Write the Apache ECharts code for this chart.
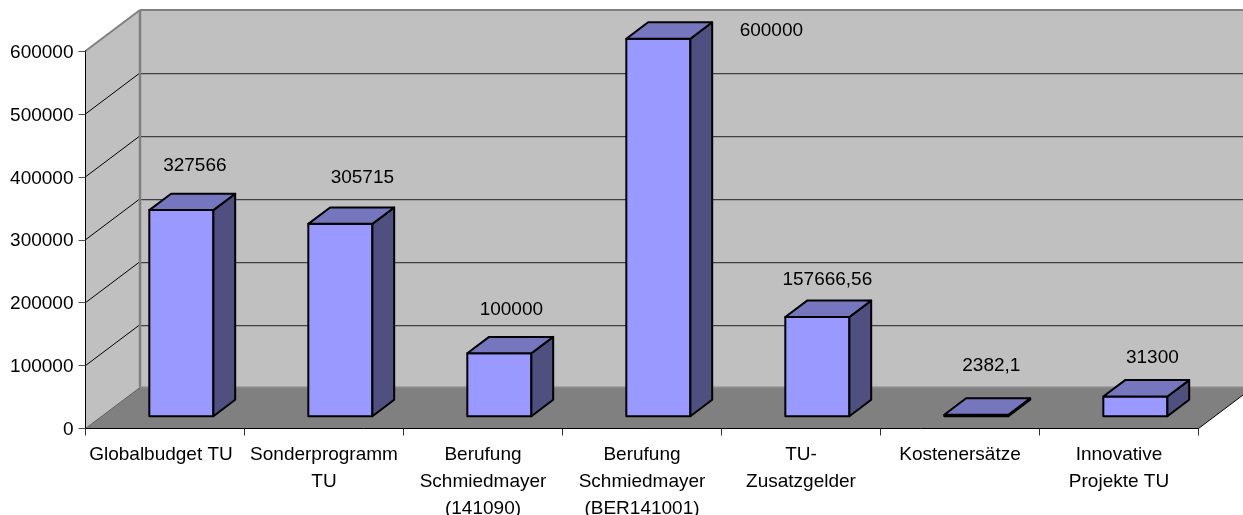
<!DOCTYPE html>
<html>
<head>
<meta charset="utf-8">
<style>html,body{margin:0;padding:0;background:#fff}#c{width:1243px;height:515px}</style>
<script src="https://cdn.jsdelivr.net/npm/echarts@6/dist/echarts.min.js"></script>
</head>
<body>
<div id="c"></div>
<script>
const categories = [
  'Globalbudget TU',
  'Sonderprogramm\nTU',
  'Berufung\nSchmiedmayer\n(141090)',
  'Berufung\nSchmiedmayer\n(BER141001)',
  'TU-\nZusatzgelder',
  'Kostenersätze',
  'Innovative\nProjekte TU'
];
const values = [327566, 305715, 100000, 600000, 157666.56, 2382.1, 31300];
const yTicks = [0, 100000, 200000, 300000, 400000, 500000, 600000];

// placement of the hand-moved value labels, relative to each bar's front top centre
const labelNudges = [[13.5,-44.5],[22,-46.5],[12,-44],[113,-7.5],[10,-37.5],[15,-48.5],[17,-39]];

const FONT_FAMILY = '"Liberation Sans", Arial, sans-serif';
const FONT_SIZE = 19;
const FONT = FONT_SIZE + 'px ' + FONT_FAMILY;
const DX = 54.5, DY = -41;          // oblique depth vector of the floor
const F0 = 0.3, F1 = 0.7;           // depth span of a bar
const BAR = 0.403;                  // bar width as a share of a category band
const C = {wall:'#C0C0C0', floor:'#808080', edge:'#808080', front:'#9999FF', top:'#7676BF', side:'#4F4F80'};

const poly = (points, fill, stroke, lw) => ({
  type:'polygon', shape:{points},
  style:{fill, stroke:stroke||null, lineWidth:lw||0, lineJoin:'round'}
});
const seg = (a, b, stroke, lw) => ({
  type:'line', shape:{x1:a[0],y1:a[1],x2:b[0],y2:b[1]},
  style:{stroke, lineWidth:lw, fill:null}
});

function renderWalls(params, api) {
  const band = api.size([1,0])[0];
  const left = api.coord([0,0])[0] - band/2;
  const right = left + band*categories.length;
  const y0 = api.coord([0,0])[1];
  const yMax = api.coord([0,yTicks[yTicks.length-1]])[1];
  const ch = [];
  ch.push(poly([[left+DX,yMax+DY],[right+DX,yMax+DY],[right+DX,y0+DY],[left+DX,y0+DY]], C.wall));
  ch.push(poly([[left,yMax],[left+DX,yMax+DY],[left+DX,y0+DY],[left,y0]], C.wall));
  ch.push(poly([[left,y0],[left+DX,y0+DY],[right+DX,y0+DY],[right,y0]], C.floor));
  yTicks.slice(1,-1).forEach(t => {
    const y = api.coord([0,t])[1];
    ch.push(seg([left,y],[left+DX,y+DY],'#000',1));
    const yb = Math.round(y+DY)+0.5;
    ch.push(seg([left+DX,yb],[right+DX,yb],'#404040',1.25));
  });
  ch.push(seg([left,yMax],[left+DX,yMax+DY],C.edge,2));
  ch.push(seg([left+DX,yMax+DY],[right+DX,yMax+DY],C.edge,2));
  ch.push(seg([left+DX,yMax+DY],[left+DX,y0+DY],C.edge,2.5));
  ch.push(seg([left+DX,y0+DY],[right+DX,y0+DY],'#8a8a8a',2));
  ch.push(seg([left,y0],[left+DX,y0+DY],'#606060',1));
  ch.push(seg([right,y0],[right+DX,y0+DY],'#000',1));
  return {type:'group', children:ch};
}

function renderBar(params, api) {
  const i = api.value(0), v = api.value(1);
  const band = api.size([1,0])[0];
  const c = api.coord([i,v]), b = api.coord([i,0]);
  const w = band*BAR;
  const fx = F0*DX, fy = F0*DY, dx = (F1-F0)*DX, dy = (F1-F0)*DY;
  const xl = c[0]-w/2+fx, xr = c[0]+w/2+fx, yt = c[1]+fy, yb = b[1]+fy;
  const n = labelNudges[i];
  return {type:'group', children:[
    poly([[xl,yt],[xr,yt],[xr,yb],[xl,yb]], C.front, '#000', 2),
    poly([[xr,yt],[xr+dx,yt+dy],[xr+dx,yb+dy],[xr,yb]], C.side, '#000', 2),
    poly([[xl,yt],[xl+dx,yt+dy],[xr+dx,yt+dy],[xr,yt]], C.top, '#000', 2),
    {type:'text', z2:10, style:{
      text:String(v).replace('.',','),
      x:c[0]+fx+n[0], y:yt+n[1],
      align:'center', verticalAlign:'middle',
      font:FONT, fill:'#000'
    }}
  ]};
}

const chart = echarts.init(document.getElementById('c'), null, {renderer:'canvas'});
chart.setOption({
  animation:false,
  backgroundColor:'#fff',
  grid:{left:85.5, right:44.5, top:51, bottom:86.5, containLabel:false, outerBoundsMode:'none'},
  xAxis:{
    type:'category', data:categories, z:5,
    axisLine:{show:true, onZero:true, lineStyle:{color:'#000',width:1}},
    axisTick:{show:true, alignWithLabel:false, length:7, lineStyle:{color:'#303030',width:1}},
    axisLabel:{interval:0, color:'#000', fontFamily:FONT_FAMILY, fontSize:FONT_SIZE, lineHeight:27, margin:13, hideOverlap:false,
      formatter:(v,i)=> i===0 ? '{first|'+v+'}' : v,
      rich:{first:{fontFamily:FONT_FAMILY, fontSize:FONT_SIZE, lineHeight:27, color:'#000', padding:[0,8,0,0]}}}
  },
  yAxis:{
    type:'value', min:0, max:600000, interval:100000, z:5,
    splitLine:{show:false},
    axisLine:{show:true, lineStyle:{color:'#000',width:1}},
    axisTick:{show:true, length:7, lineStyle:{color:'#505050',width:1}},
    axisLabel:{color:'#000', fontFamily:FONT_FAMILY, fontSize:FONT_SIZE, margin:12, formatter:v=>'{v|'+v+'}',
      rich:{v:{fontFamily:FONT_FAMILY, fontSize:FONT_SIZE, color:'#000', padding:[3,0,0,0]}}}
  },
  series:[
    {type:'custom', coordinateSystem:'cartesian2d', clip:false, silent:true, z:1,
     data:[[0,0]], renderItem:renderWalls},
    {type:'custom', coordinateSystem:'cartesian2d', clip:false, silent:true, z:2,
     encode:{x:0,y:1}, data:values.map((v,i)=>[i,v]), renderItem:renderBar}
  ]
});
</script>
</body>
</html>
